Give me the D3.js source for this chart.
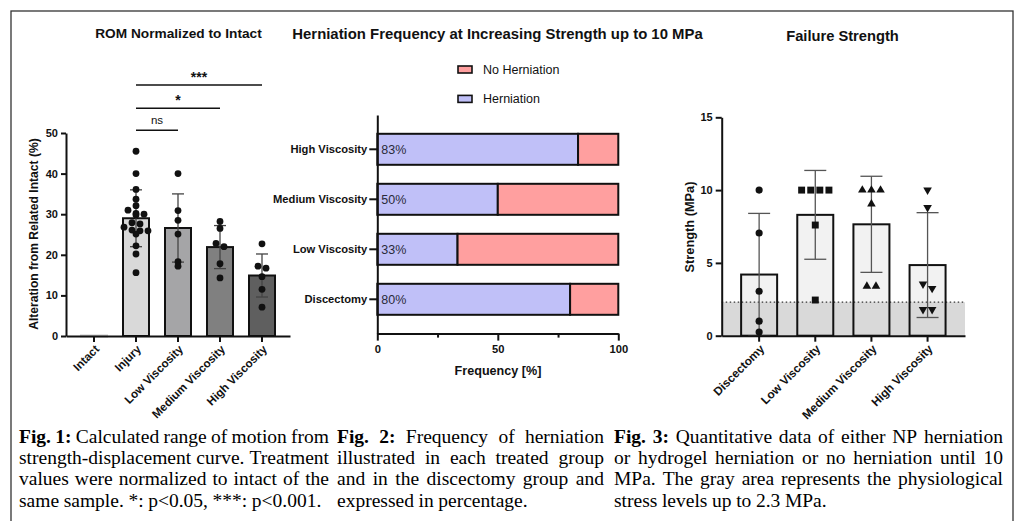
<!DOCTYPE html>
<html>
<head>
<meta charset="utf-8">
<script src="https://cdn.jsdelivr.net/npm/d3@7"></script>
<style>
  body { margin: 0; background: #fff; }
  svg { display: block; }
</style>
</head>
<body>
<svg id="fig" width="1017" height="521"></svg>
<script>
(function(){
    'use strict';

    // ---- Fig. 1: ROM normalized to intact (%)
    var romGroups = ["Intact", "Injury", "Low Viscosity", "Medium Viscosity", "High Viscosity"];
    var romMean = [0, 29.0, 26.6, 21.9, 14.9];
    var romSd = [0, 7.0, 8.4, 5.3, 5.3];
    var romInjury = [45.5, 40, 36.1, 33.7, 32.1, 31.0, 30.2, 30.0, 29.8, 27.9, 27.6, 26.8, 26.1, 25.9, 25.9, 25.1, 22.2, 20.2, 15.6];
    var romLow = [40, 30.9, 28.5, 25.1, 18.3, 17.2];
    var romMedium = [28.2, 26.5, 22.8, 22.0, 17.8, 14.3];
    var romHigh = [22.7, 17.2, 16.7, 14.6, 11.5, 7.1];
    var romTicks = [0, 10, 20, 30, 40, 50];
    var sigLabels = ["ns", "*", "***"];
    var sigTo = ["Low Viscosity", "Medium Viscosity", "High Viscosity"];
    var sigLevel = [50.7, 56.1, 61.8];

    // ---- Fig. 2: herniation frequency (%)
    var hernGroups = ["High Viscosity", "Medium Viscosity", "Low Viscosity", "Discectomy"];
    var hernPct = [83.3, 50, 33.3, 80];
    var hernKeys = ["Herniation", "No Herniation"];
    var hernTicks = [0, 25, 50, 75, 100];

    // ---- Fig. 3: failure strength (MPa)
    var strGroups = ["Discectomy", "Low Viscosity", "Medium Viscosity", "High Viscosity"];
    var strMean = [4.2, 8.3, 7.65, 4.85];
    var strSd = [4.2, 3.05, 3.3, 3.6];
    var strDisc = [10, 7.05, 3.05, 1.0, 0.25];
    var strLow = [10, 10, 10, 10, 7.6, 2.45];
    var strMedium = [10, 10, 10, 9.05, 3.4, 3.4];
    var strHigh = [10, 8.8, 3.55, 3.25, 1.8, 1.8];
    var strTicks = [0, 5, 10, 15];
    var physLimit = 2.3;

    // ---- captions
    var cap1 = ["Fig. 1: Calculated range of motion from", "strength-displacement curve. Treatment",
                "values were normalized to intact of the", "same sample. *: p<0.05, ***: p<0.001."];
    var cap2 = ["Fig. 2: Frequency of herniation", "illustrated in each treated group",
                "and in the discectomy group and", "expressed in percentage."];
    var cap3 = ["Fig. 3: Quantitative data of either NP herniation", "or hydrogel herniation or no herniation until 10",
                "MPa. The gray area represents the physiological", "stress levels up to 2.3 MPa."];

    var sans = '"Liberation Sans", Arial, sans-serif';
    var serif = '"Liberation Serif", "Times New Roman", serif';
    var ink = "#111";
    var romFill = ["#c8c8c8", "#d9d9d9", "#a5a5a7", "#808080", "#5f5f5f"];
    var hernColor = {"Herniation": "#c0c0f8", "No Herniation": "#ff9f9f"};

    var svg = d3.select("#fig");

    svg.append("rect")
        .attr("x", 11).attr("y", 11).attr("width", 1002).attr("height", 540)
        .attr("fill", "none").attr("stroke", "#333").attr("stroke-width", 1.3);

    // group values into rows and spread them sideways, like a scatter dot plot
    function swarm(vals, y, thr, step) {
        var rows = [];
        vals.slice().sort(function(a, b) { return b - a; }).forEach(function(v) {
            var r = rows[rows.length - 1];
            if (r && Math.abs(y(v) - r.y0) < thr) r.items.push(v);
            else rows.push({y0: y(v), items: [v]});
        });
        var out = [];
        rows.forEach(function(r) {
            r.items.forEach(function(v, k) {
                out.push({v: v, dx: (k - (r.items.length - 1) / 2) * step});
            });
        });
        return out;
    }

    function styleAxis(g, size) {
        g.select(".domain").attr("stroke", ink).attr("stroke-width", 2);
        g.selectAll(".tick line").attr("stroke", ink).attr("stroke-width", 2);
        g.selectAll(".tick text").attr("fill", ink).attr("font-weight", "bold")
            .attr("font-size", size).attr("font-family", sans);
    }

    function title(x, y, t, size) {
        svg.append("text").attr("x", x).attr("y", y).attr("text-anchor", "middle")
            .attr("font-family", sans).attr("font-weight", "bold").attr("font-size", size)
            .attr("fill", ink).text(t);
    }

    function errBars(g, groups, xc, y, mean, sd, cap, color) {
        groups.forEach(function(d, i) {
            if (!sd[i]) return;
            var cx = xc(d), lo = y(mean[i] - sd[i]), hi = y(mean[i] + sd[i]);
            g.append("line").attr("x1", cx).attr("x2", cx).attr("y1", lo).attr("y2", hi)
                .attr("stroke", color).attr("stroke-width", 1.3);
            [lo, hi].forEach(function(yy) {
                g.append("line").attr("x1", cx - cap / 2).attr("x2", cx + cap / 2)
                    .attr("y1", yy).attr("y2", yy).attr("stroke", color).attr("stroke-width", 1.3);
            });
        });
    }

    function rotLabels(g) {
        g.selectAll(".tick text")
            .attr("text-anchor", "end")
            .attr("x", 0).attr("y", 0).attr("dy", "0.35em")
            .attr("transform", "translate(3,11) rotate(-45)");
    }

    // ================= Fig. 1 =================
    title(178.5, 38, "ROM Normalized to Intact", 13.7);
    var x1 = d3.scaleBand().domain(romGroups).range([66, 290]).paddingInner(0).paddingOuter(1 / 6);
    var y1 = d3.scaleLinear().domain([0, 50]).range([336, 133]);
    var c1 = function(d) { return x1(d) + x1.bandwidth() / 2; };
    var g1 = svg.append("g");

    g1.selectAll("rect.bar").data(romGroups).join("rect")
        .attr("class", "bar")
        .attr("x", function(d) { return c1(d) - 13; })
        .attr("width", 26)
        .attr("y", function(d, i) { return y1(romMean[i]); })
        .attr("height", function(d, i) { return y1(0) - y1(romMean[i]); })
        .attr("fill", function(d, i) { return romFill[i]; })
        .attr("stroke", function(d, i) { return i === 0 ? "none" : ink; })
        .attr("stroke-width", 2);
    // intact sits at zero: a flat gray mark
    g1.append("line").attr("x1", c1("Intact") - 14).attr("x2", c1("Intact") + 14)
        .attr("y1", y1(romMean[0])).attr("y2", y1(romMean[0]))
        .attr("stroke", romFill[0]).attr("stroke-width", 3);

    errBars(g1, romGroups, c1, y1, romMean, romSd, 12, "#444");

    var romPts = [[], romInjury, romLow, romMedium, romHigh];
    romGroups.forEach(function(grp, i) {
        g1.selectAll(null).data(swarm(romPts[i], y1, 4.2, 8)).join("circle")
            .attr("cx", function(d) { return c1(grp) + d.dx; })
            .attr("cy", function(d) { return y1(d.v); })
            .attr("r", 3.4).attr("fill", ink);
    });

    var ax1 = g1.append("g").attr("transform", "translate(66,0)")
        .call(d3.axisLeft(y1).tickValues(romTicks).tickSize(5).tickSizeOuter(0).tickPadding(3));
    styleAxis(ax1, 11);
    var bx1 = g1.append("g").attr("transform", "translate(0,336)")
        .call(d3.axisBottom(x1).tickSize(6).tickSizeOuter(0));
    styleAxis(bx1, 11.6);
    rotLabels(bx1);

    g1.append("text").attr("transform", "translate(37.5,234) rotate(-90)")
        .attr("text-anchor", "middle").attr("font-family", sans).attr("font-weight", "bold")
        .attr("font-size", 12.1).attr("fill", ink).text("Alteration from Related Intact (%)");

    sigLabels.forEach(function(lab, i) {
        var xa = c1("Injury"), xb = c1(sigTo[i]), yy = y1(sigLevel[i]);
        g1.append("line").attr("x1", xa).attr("x2", xb).attr("y1", yy).attr("y2", yy)
            .attr("stroke", ink).attr("stroke-width", 1.5);
        g1.append("text").attr("x", (xa + xb) / 2).attr("y", yy - (lab === "ns" ? 6.5 : 3))
            .attr("text-anchor", "middle").attr("font-family", sans)
            .attr("font-weight", lab === "ns" ? "normal" : "bold")
            .attr("font-size", lab === "ns" ? 11.5 : 14).attr("fill", ink).text(lab);
    });

    // ================= Fig. 2 =================
    title(497.5, 38.5, "Herniation Frequency at Increasing Strength up to 10 MPa", 14.9);
    var x2 = d3.scaleLinear().domain([0, 100]).range([377.3, 618.3]);
    var y2 = d3.scaleBand().domain(hernGroups).range([115, 333.6]).paddingInner(0.38).paddingOuter(0.376);
    var g2 = svg.append("g");

    var rows2 = hernGroups.map(function(d, i) {
        return {group: d, "Herniation": hernPct[i], "No Herniation": 100 - hernPct[i]};
    });
    var stack = d3.stack().keys(hernKeys)(rows2);
    g2.selectAll("g.layer").data(stack).join("g")
        .attr("class", "layer")
        .attr("fill", function(s) { return hernColor[s.key]; })
        .selectAll("rect").data(function(s) { return s; }).join("rect")
        .attr("x", function(d) { return x2(d[0]); })
        .attr("width", function(d) { return x2(d[1]) - x2(d[0]); })
        .attr("y", function(d) { return y2(d.data.group); })
        .attr("height", y2.bandwidth())
        .attr("stroke", ink).attr("stroke-width", 2);

    g2.selectAll("text.pct").data(rows2).join("text")
        .attr("class", "pct")
        .attr("x", x2(0) + 4)
        .attr("y", function(d) { return y2(d.group) + y2.bandwidth() / 2; })
        .attr("dy", "0.36em")
        .attr("font-family", sans).attr("font-size", 12.5).attr("fill", "#2a2a3a")
        .text(function(d) { return Math.round(d["Herniation"]) + "%"; });

    var ax2 = g2.append("g").attr("transform", "translate(377.3,0)")
        .call(d3.axisLeft(y2).tickSize(8).tickSizeOuter(0).tickPadding(2));
    styleAxis(ax2, 11.2);
    var bx2 = g2.append("g").attr("transform", "translate(0,333.6)")
        .call(d3.axisBottom(x2).tickValues(hernTicks).tickSize(7).tickSizeOuter(0).tickPadding(4)
            .tickFormat(function(d) { return d % 50 === 0 ? d : ""; }));
    styleAxis(bx2, 11.2);
    bx2.selectAll(".tick line").attr("y2", function(d) { return d % 50 === 0 ? 7 : 4; });

    g2.append("text").attr("x", 498).attr("y", 374.5).attr("text-anchor", "middle")
        .attr("font-family", sans).attr("font-weight", "bold").attr("font-size", 12.6)
        .attr("fill", ink).text("Frequency [%]");

    hernKeys.slice().reverse().forEach(function(k, i) {
        var yy = 66 + i * 29.4;
        g2.append("rect").attr("x", 458).attr("y", yy).attr("width", 14).attr("height", 7)
            .attr("fill", hernColor[k]).attr("stroke", ink).attr("stroke-width", 1.6);
        g2.append("text").attr("x", 483).attr("y", yy + 8).attr("font-family", sans)
            .attr("font-size", 12.5).attr("fill", ink).text(k);
    });

    // ================= Fig. 3 =================
    title(842.5, 40.5, "Failure Strength", 14.7);
    var x3 = d3.scaleBand().domain(strGroups).range([721.7, 965]).paddingInner(0).paddingOuter(1 / 6);
    var y3 = d3.scaleLinear().domain([0, 15]).range([335.7, 117.3]);
    var c3 = function(d) { return x3(d) + x3.bandwidth() / 2; };
    var g3 = svg.append("g");

    g3.selectAll("rect.fillbar").data(strGroups).join("rect")
        .attr("class", "fillbar")
        .attr("x", function(d) { return c3(d) - 18; })
        .attr("width", 36)
        .attr("y", function(d, i) { return y3(strMean[i]); })
        .attr("height", function(d, i) { return y3(0) - y3(strMean[i]); })
        .attr("fill", "#f2f2f2");

    g3.append("rect").attr("x", x3.range()[0]).attr("width", x3.range()[1] - x3.range()[0])
        .attr("y", y3(physLimit)).attr("height", y3(0) - y3(physLimit)).attr("fill", "#d9d9d9");
    g3.append("line").attr("x1", x3.range()[0]).attr("x2", x3.range()[1])
        .attr("y1", y3(physLimit)).attr("y2", y3(physLimit))
        .attr("stroke", "#333").attr("stroke-width", 1.3).attr("stroke-dasharray", "1.5,2.5");

    g3.selectAll("rect.outline").data(strGroups).join("rect")
        .attr("class", "outline")
        .attr("x", function(d) { return c3(d) - 18; })
        .attr("width", 36)
        .attr("y", function(d, i) { return y3(strMean[i]); })
        .attr("height", function(d, i) { return y3(0) - y3(strMean[i]); })
        .attr("fill", "none").attr("stroke", ink).attr("stroke-width", 2);

    errBars(g3, strGroups, c3, y3, strMean, strSd, 22, "#555");

    var strPts = [strDisc, strLow, strMedium, strHigh];
    var shapes = [
        {type: d3.symbolCircle, size: 40, rot: 0},
        {type: d3.symbolSquare, size: 48, rot: 0},
        {type: d3.symbolTriangle, size: 32, rot: 0},
        {type: d3.symbolTriangle, size: 32, rot: 180}
    ];
    strGroups.forEach(function(grp, i) {
        var sym = d3.symbol().type(shapes[i].type).size(shapes[i].size);
        g3.selectAll(null).data(swarm(strPts[i], y3, 6, 9.1)).join("path")
            .attr("d", sym)
            .attr("transform", function(d) {
                return "translate(" + (c3(grp) + d.dx) + "," + y3(d.v) + ") rotate(" + shapes[i].rot + ")";
            })
            .attr("fill", ink);
    });

    var ax3 = g3.append("g").attr("transform", "translate(721.7,0)")
        .call(d3.axisLeft(y3).tickValues(strTicks).tickSize(6).tickSizeOuter(0).tickPadding(3));
    styleAxis(ax3, 11);
    var bx3 = g3.append("g").attr("transform", "translate(0,335.7)")
        .call(d3.axisBottom(x3).tickSize(6).tickSizeOuter(0));
    styleAxis(bx3, 11.8);
    rotLabels(bx3);

    g3.append("text").attr("transform", "translate(693.5,227) rotate(-90)")
        .attr("text-anchor", "middle").attr("font-family", sans).attr("font-weight", "bold")
        .attr("font-size", 12.8).attr("fill", ink).text("Strength (MPa)");

    // ================= captions =================
    function caption(x0, width, lines, top) {
        var t = svg.append("g").attr("font-family", serif).attr("font-size", 19.5).attr("fill", "#000");
        lines.forEach(function(line, li) {
            var words = line.split(" ");
            var txt = t.append("text").attr("y", top + li * 21.2);
            var spans = words.map(function(w, wi) {
                return txt.append("tspan").text(w)
                    .attr("font-weight", li === 0 && wi < 2 ? "bold" : null);
            });
            var widths = spans.map(function(s) { return s.node().getComputedTextLength(); });
            var last = li === lines.length - 1;
            var gap = last ? 4.6 : (width - d3.sum(widths)) / (words.length - 1);
            var x = x0;
            spans.forEach(function(s, i) { s.attr("x", x); x += widths[i] + gap; });
        });
    }
    caption(19, 310, cap1, 443);
    caption(337, 267, cap2, 443);
    caption(614, 389, cap3, 443);
})();
</script>
</body>
</html>
